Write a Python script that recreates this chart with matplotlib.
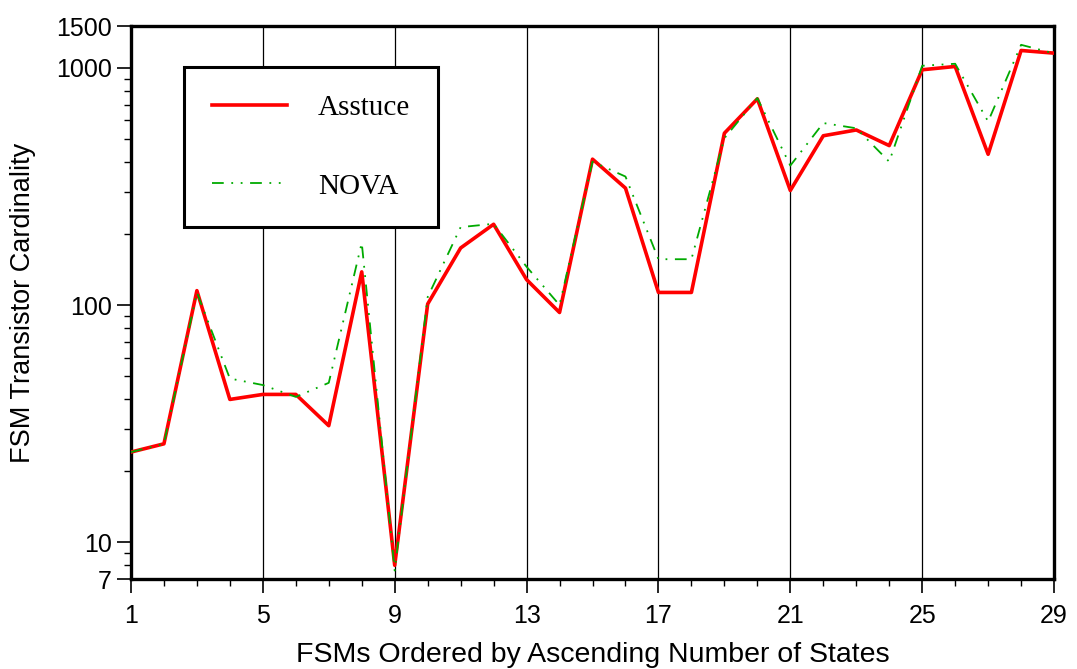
import matplotlib
matplotlib.use('Agg')
import matplotlib.pyplot as plt
from matplotlib.ticker import FixedLocator, LogLocator, NullFormatter, FixedFormatter

plt.rcParams['font.family'] = ['Liberation Sans', 'DejaVu Sans']

# FSM index (ordered by ascending number of states)
fsm = list(range(1, 30))

asstuce = [24, 26, 115, 40, 42, 42, 31, 138, 8, 101,
           174, 219, 128, 93, 412, 311, 113, 113, 530, 740,
           304, 517, 547, 470, 981, 1013, 432, 1183, 1153]

nova = [24, 26, 113, 49, 46, 41, 47, 183, 7.6, 108,
        213, 220, 145, 100, 402, 348, 156, 156, 505, 745,
        387, 585, 556, 402, 1020, 1040, 594, 1250, 1150]

x_major = [1, 5, 9, 13, 17, 21, 25, 29]
y_major = [7, 10, 100, 1000, 1500]

fig = plt.figure(figsize=(10.77, 6.69), dpi=100)
ax = fig.add_axes([0.1216, 0.1345, 0.8571, 0.8266])

ax.plot(fsm, asstuce, color='#ff0000', linewidth=2.6, label='Asstuce', zorder=3)
ax.plot(fsm, nova, color='#00aa00', linewidth=1.3,
        linestyle=(0, (6.5, 4.2, 1, 4.2, 1, 4.2)), label='NOVA', zorder=4)

ax.set_yscale('log')
ax.set_xlim(1, 29)
ax.set_ylim(7, 1500)

ax.xaxis.set_major_locator(FixedLocator(x_major))
ax.xaxis.set_minor_locator(FixedLocator(fsm))
ax.yaxis.set_major_locator(FixedLocator(y_major))
ax.yaxis.set_major_formatter(FixedFormatter([str(v) for v in y_major]))
ax.yaxis.set_minor_locator(LogLocator(base=10, subs=range(2, 10)))
ax.yaxis.set_minor_formatter(NullFormatter())

ax.tick_params(which='major', direction='out', length=10, width=1.2, labelsize=18)
ax.tick_params(axis='x', which='major', pad=8)
ax.tick_params(axis='y', which='major', pad=4)
ax.tick_params(which='minor', direction='out', length=5, width=1.0)
ax.tick_params(top=False, right=False, which='both')

ax.xaxis.grid(True, which='major', color='black', linewidth=0.9)
for s in ax.spines.values():
    s.set_linewidth(2.4)

ax.set_xlabel('FSMs Ordered by Ascending Number of States', fontsize=20.5, labelpad=10)
ax.set_ylabel('FSM Transistor Cardinality', fontsize=19.5, labelpad=14)

leg = ax.legend(loc='upper left', bbox_to_anchor=(0.0574, 0.926), borderaxespad=0,
                fancybox=False, edgecolor='black', framealpha=1,
                handlelength=2.6, handletextpad=1.05, labelspacing=1.79, borderpad=0.95,
                prop={'family': 'Liberation Serif', 'size': 21})
leg.get_frame().set_linewidth(2.2)

fig.savefig('out.png', dpi=100)
